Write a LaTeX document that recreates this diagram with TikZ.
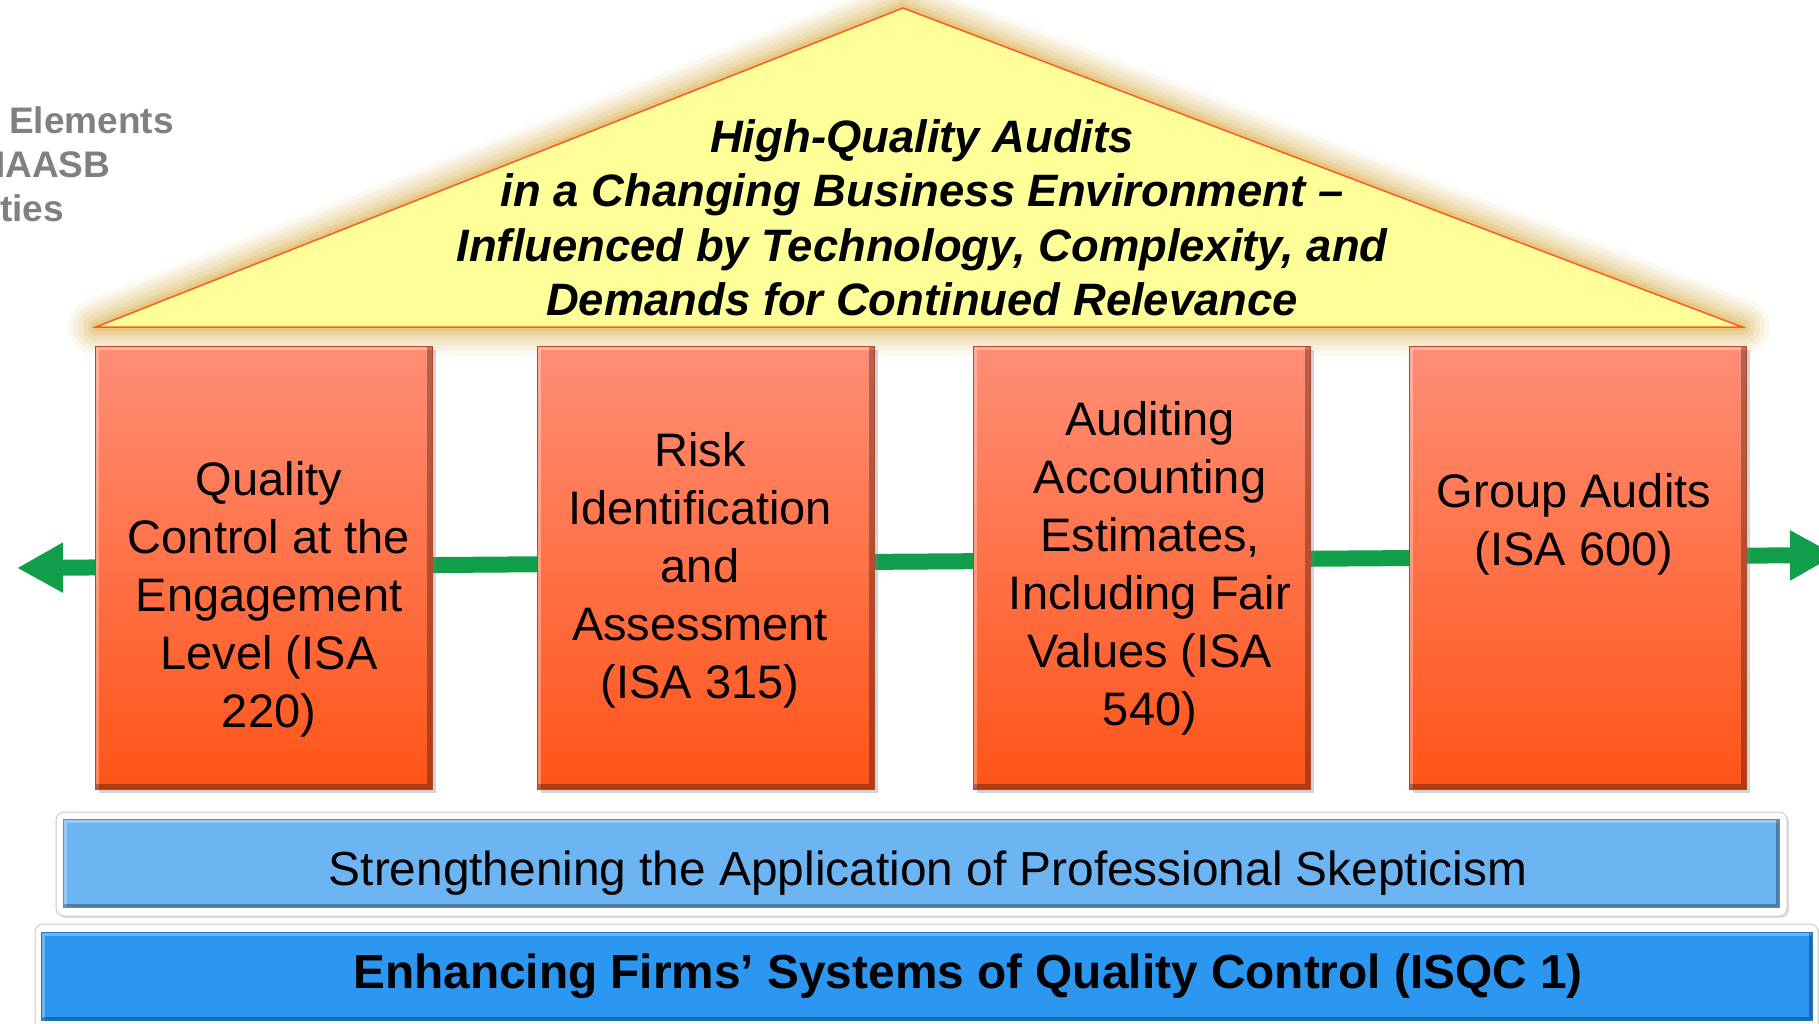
\documentclass[tikz,border=0pt]{standalone}
\usepackage{fontspec}
\setmainfont{Liberation Sans}
\usetikzlibrary{arrows.meta,shadows}
\definecolor{roofyellow}{HTML}{FFFF99}
\definecolor{roofline}{HTML}{FF5A1F}
\definecolor{roofglow}{HTML}{DDB860}
\definecolor{pillartop}{HTML}{FF8E76}
\definecolor{pillarmid}{HTML}{FF7A55}
\definecolor{pillarbot}{HTML}{FF5418}
\definecolor{pillaredge}{HTML}{B0482A}
\definecolor{arrowgreen}{HTML}{119E4A}
\definecolor{lightbar}{HTML}{6DB4F3}
\definecolor{darkbar}{HTML}{2C97F1}
\definecolor{sidegray}{HTML}{808080}
\tikzset{
  bevel/.style={path picture={
    \draw[white,opacity=.3,line width=7pt] (path picture bounding box.south west) -- (path picture bounding box.north west) -- (path picture bounding box.north east);
    \draw[black,opacity=.3,line width=#1] (path picture bounding box.north east) -- (path picture bounding box.south east) -- (path picture bounding box.south west);}},
  pillar/.style={draw=pillaredge,line width=1.5pt,top color=pillartop,middle color=pillarmid,bottom color=pillarbot,
    minimum width=337pt,minimum height=443pt,inner sep=0pt,bevel=12pt,
    drop shadow={shadow xshift=3pt,shadow yshift=-3pt,opacity=.35}},
  pillartext/.style={align=center,font=\fontsize{47pt}{58pt}\selectfont},
  frame/.style={draw=black!20,fill=white,rounded corners=8pt,line width=1pt,
    drop shadow={shadow xshift=2pt,shadow yshift=-2pt,opacity=.25}},
  barbox/.style={fill=#1,draw=#1!80!black,minimum height=88pt,inner sep=0pt,bevel=7pt},
  sidetext/.style={anchor=base west,inner sep=0pt,text=sidegray,font=\fontsize{37pt}{44pt}\selectfont\bfseries}
}
\begin{document}
\begin{tikzpicture}[x=1pt,y=-1pt]
\useasboundingbox (0,0) rectangle (1819,1023);
% text cut at the left edge
\node[sidetext] (s1) at (9,133) {Elements};
\node[sidetext] (s2) at (-5,177) {IAASB};
\node[sidetext] (s3) at (0,221) {ties};
% roof
\coordinate (apex) at (903,8);
\coordinate (eaveL) at (96,327);
\coordinate (eaveR) at (1742,327);
\foreach \w/\o in {56/.1,46/.12,36/.15,26/.2,16/.3,8/.4}
  \draw[roofglow,opacity=\o,line width=\w pt,line join=round] (apex) -- (eaveL) -- (eaveR) -- cycle;
\filldraw[fill=roofyellow,draw=roofline,line width=1.5pt] (apex) -- (eaveL) -- (eaveR) -- cycle;
\node[align=center,font=\fontsize{45.4pt}{54.5pt}\selectfont\bfseries\itshape] (roof) at (922,218)
  {High-Quality Audits\\in a Changing Business Environment --\\Influenced by Technology, Complexity, and\\Demands for Continued Relevance};
% arrow behind the pillars
\coordinate (arrL) at (17,568);
\coordinate (arrR) at (1836,555);
\draw[arrowgreen,line width=16pt,{Triangle[length=46pt,width=47pt]}-{Triangle[length=46pt,width=47pt]}] (arrL) -- (arrR);
% pillars
\foreach \i/\x in {1/264,2/706,3/1142,4/1578}
  \node[pillar] (p\i) at (\x,568) {};
\node[pillartext] (t1) at (269,599) {Quality\\Control at the\\Engagement\\Level (ISA\\220)};
\node[pillartext] (t2) at (700,570) {Risk\\Identification\\and\\Assessment\\(ISA 315)};
\node[pillartext] (t3) at (1150,568) {Auditing\\Accounting\\Estimates,\\Including Fair\\Values (ISA\\540)};
\node[pillartext] (t4) at (1574,524) {Group Audits\\(ISA 600)};
% foundation
\draw[frame] (56,812) rectangle (1787,916);
\node[barbox=lightbar,minimum width=1716pt] (skep) at (921,863) {};
\node[font=\fontsize{47.8pt}{56pt}\selectfont] (skeptext) at (928,873) {Strengthening the Application of Professional Skepticism};
\draw[frame] (35,924) rectangle (1818,1040);
\node[barbox=darkbar,minimum width=1771pt] (isqc) at (927,976) {};
\node[font=\fontsize{47.8pt}{56pt}\selectfont\bfseries] (isqctext) at (968,976) {Enhancing Firms’ Systems of Quality Control (ISQC 1)};
\end{tikzpicture}
\end{document}
